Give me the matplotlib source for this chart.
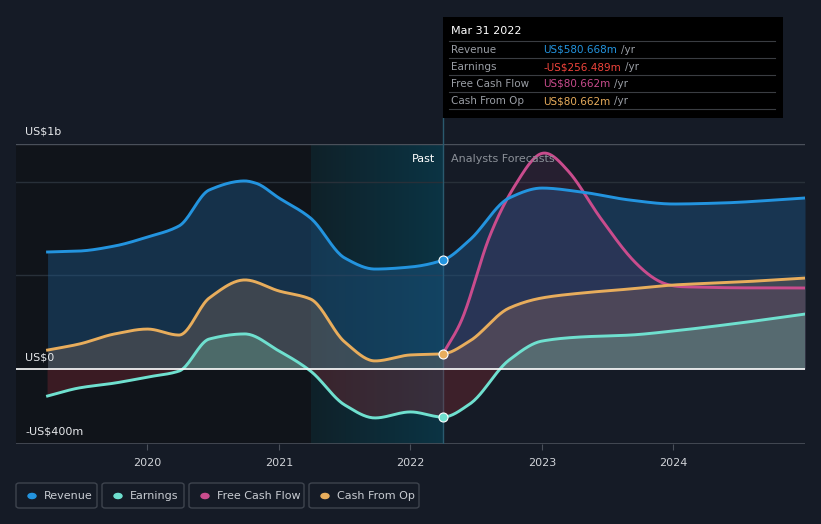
import numpy as np
import matplotlib.pyplot as plt
from matplotlib.patches import Rectangle, FancyBboxPatch
from matplotlib.colors import LinearSegmentedColormap

# values in US$m, x in decimal years
rev_x = [2019.24, 2019.48, 2019.75, 2020.0, 2020.24, 2020.47, 2020.74, 2020.82, 2021.0, 2021.24,
         2021.5, 2021.73, 2022.0, 2022.247, 2022.45, 2022.75, 2023.0, 2023.3, 2023.67, 2024.0, 2024.35, 2025.0]
rev_y = [624, 629, 656, 704, 763, 955, 1003, 992, 912, 805,
         592, 533, 544, 580.7, 688, 912, 965, 944, 901, 880, 885, 912]

earn_x = [2019.24, 2019.48, 2019.75, 2020.0, 2020.24, 2020.47, 2020.74, 2021.0, 2021.24,
          2021.5, 2021.73, 2022.0, 2022.247, 2022.45, 2022.75, 2023.0, 2023.3, 2023.67, 2024.0, 2024.5, 2025.0]
earn_y = [-144, -101, -75, -43, -11, 160, 187, 96, -11,
          -192, -261, -229, -256.5, -187, 48, 149, 171, 181, 203, 245, 293]

cfo_x = [2019.24, 2019.48, 2019.75, 2020.0, 2020.24, 2020.47, 2020.74, 2021.0, 2021.24,
         2021.5, 2021.73, 2022.0, 2022.247, 2022.45, 2022.75, 2023.0, 2023.3, 2023.67, 2024.0, 2024.5, 2025.0]
cfo_y = [101, 133, 187, 213, 181, 379, 475, 416, 373,
         144, 43, 75, 80.7, 149, 325, 379, 405, 427, 448, 464, 485]

fcf_x = [2022.247, 2022.40, 2022.60, 2022.80, 2023.0, 2023.2, 2023.45, 2023.7, 2023.92, 2024.2, 2025.0]
fcf_y = [80.7, 280, 704, 985, 1150, 1055, 800, 575, 459, 437, 432]

years = [2020, 2021, 2022, 2023, 2024]
now = 2022.247


def smooth(x, y, n=500, mono=True):
    # cubic hermite, just for drawing the curve
    x = np.asarray(x, float); y = np.asarray(y, float)
    h = np.diff(x); d = np.diff(y) / h
    m = np.zeros_like(y)
    m[0], m[-1] = d[0], d[-1]
    for i in range(1, len(y) - 1):
        if mono:
            if d[i-1] * d[i] > 0:
                w1 = 2*h[i] + h[i-1]; w2 = h[i] + 2*h[i-1]
                m[i] = (w1 + w2) / (w1/d[i-1] + w2/d[i])
        else:
            m[i] = (y[i+1] - y[i-1]) / (x[i+1] - x[i-1])
    xs = np.linspace(x[0], x[-1], n)
    k = np.clip(np.searchsorted(x, xs) - 1, 0, len(h) - 1)
    t = (xs - x[k]) / h[k]
    h00 = 2*t**3 - 3*t**2 + 1; h10 = t**3 - 2*t**2 + t
    h01 = -2*t**3 + 3*t**2; h11 = t**3 - t**2
    ys = h00*y[k] + h10*h[k]*m[k] + h01*y[k+1] + h11*h[k]*m[k+1]
    return xs, ys


bg = '#151b26'
fig = plt.figure(figsize=(8.21, 5.24), dpi=100, facecolor=bg)
ax = fig.add_axes([16/821, 80/524, 789/821, 300/524])
ax.set_facecolor(bg)
ax.set_xlim(2019.0, 2025.0)
ax.set_ylim(-400, 1200)

# past shading
ax.axvspan(2019.0, 2021.24, color='#0f1217', alpha=0.75, lw=0, zorder=0)
grad = np.linspace(0, 1, 100).reshape(1, -1)
cm = LinearSegmentedColormap.from_list('band', ['#0f2129', '#0b3444'])
ax.imshow(grad, extent=[2021.24, now, -400, 1200], aspect='auto', cmap=cm, zorder=0.5)

for g in [500, 1000]:
    ax.axhline(g, color='#283039', lw=1, zorder=1)
ax.axhline(1200, color='#4a505a', lw=1, zorder=1)
ax.axhline(-400, color='#4a505a', lw=1.2, zorder=1)

c_rev = '#2394df'
c_earn = '#6fe0cf'
c_fcf = '#c94c8d'
c_cfo = '#e8ad5c'
lw = 2.1

xs, ys = smooth(rev_x, rev_y)
ax.fill_between(xs, ys, 0, color='#1d5a8e', alpha=0.42, lw=0, zorder=2)
ax.plot(xs, ys, color=c_rev, lw=lw, zorder=6)

xs, ys = smooth(cfo_x, cfo_y)
ax.fill_between(xs, ys, 0, color='#b8845e', alpha=0.25, lw=0, zorder=3)
ax.plot(xs, ys, color=c_cfo, lw=lw, zorder=6)

xs, ys = smooth(fcf_x, fcf_y, mono=False)
ax.fill_between(xs, ys, 0, color='#a03c78', alpha=0.13, lw=0, zorder=3)
ax.plot(xs, ys, color=c_fcf, lw=lw, zorder=5)

xs, ys = smooth(earn_x, earn_y)
ax.fill_between(xs, ys, 0, where=ys >= 0, color='#6fc0a8', alpha=0.3, lw=0, zorder=4, interpolate=True)
ax.fill_between(xs, ys, 0, where=ys < 0, color='#8a2a34', alpha=0.35, lw=0, zorder=4, interpolate=True)
ax.plot(xs, ys, color=c_earn, lw=lw, zorder=6)

ax.axhline(0, color='white', lw=1.2, zorder=7)
ax.plot([now, now], [-400, 1200], color='#2a5a6e', lw=1, zorder=1)

for v, c in [(580.7, c_rev), (-256.5, c_earn), (80.7, c_cfo)]:
    ax.plot(now, v, 'o', ms=6.5, mfc=c, mec='white', mew=0.8, zorder=9)

for s in ax.spines.values():
    s.set_visible(False)
ax.set_yticks([])
ax.set_xticks(years)
ax.set_xticklabels([str(y) for y in years], color='#d0d3d8', fontsize=8)
ax.tick_params(axis='x', colors='#4a505a', length=4, pad=6, labelcolor='#d0d3d8')

ax.text(0.012, 1.04, 'US$1b', transform=ax.transAxes, color='#e6e8eb', fontsize=8, va='center')
ax.text(0.012, 0.29, 'US$0', transform=ax.transAxes, color='#e6e8eb', fontsize=8, va='center')
ax.text(0.012, 0.04, '-US$400m', transform=ax.transAxes, color='#e6e8eb', fontsize=8, va='center')
ax.text(now - 0.06, 1120, 'Past', color='white', fontsize=8, ha='right', va='center', zorder=8)
ax.text(now + 0.06, 1120, 'Analysts Forecasts', color='#8b9098', fontsize=8, ha='left', va='center', zorder=8)

# tooltip
W, H = 821, 524
fig.patches.append(Rectangle((443/W, 1 - 118/H), 340/W, 101/H, transform=fig.transFigure,
                             facecolor='black', edgecolor='none', zorder=10))
fig.lines.append(plt.Line2D([443/W, 443/W], [1 - 144/H, 1 - 118/H], transform=fig.transFigure,
                            color='#2a5a6e', lw=1, zorder=9))
fig.text(451/W, 1 - 31/H, 'Mar 31 2022', color='white', fontsize=8, va='center', zorder=11)
rows = [('Revenue', 'US$580.668m', c_rev, 50),
        ('Earnings', '-US$256.489m', '#f0443c', 67),
        ('Free Cash Flow', 'US$80.662m', c_fcf, 84),
        ('Cash From Op', 'US$80.662m', c_cfo, 101)]
for yl in [41, 58, 75, 92, 109]:
    fig.lines.append(plt.Line2D([449/W, 775/W], [1 - yl/H, 1 - yl/H], transform=fig.transFigure,
                                color='#3a3d42', lw=0.8, zorder=11))
for lab, val, col, yy in rows:
    fig.text(451/W, 1 - yy/H, lab, color='#9a9ea5', fontsize=7.5, va='center', zorder=11)
    t = fig.text(543/W, 1 - yy/H, val, color=col, fontsize=7.5, va='center', zorder=11)
    fig.canvas.draw()
    bb = t.get_window_extent()
    fig.text(bb.x1 / W + 4/W, 1 - yy/H, '/yr', color='#9a9ea5', fontsize=7.5, va='center', zorder=11)

# legend
legend = [('Revenue', c_rev, 16, 97), ('Earnings', c_earn, 102, 184),
          ('Free Cash Flow', c_fcf, 189, 304), ('Cash From Op', c_cfo, 309, 419)]
for lab, col, x0, x1 in legend:
    fig.patches.append(FancyBboxPatch((x0/W, 1 - 508/H), (x1 - x0)/W, 25/H,
                                      boxstyle='round,pad=0,rounding_size=0.004',
                                      transform=fig.transFigure, facecolor='none',
                                      edgecolor='#3e444e', lw=1))
    fig.patches.append(plt.Circle(((x0 + 16)/W, 1 - 496/H), 4/W, transform=fig.transFigure,
                                  color=col))
    fig.text((x0 + 28)/W, 1 - 496/H, lab, color='#c8ccd2', fontsize=8, va='center')

fig.savefig('out.png', dpi=100, facecolor=bg)
